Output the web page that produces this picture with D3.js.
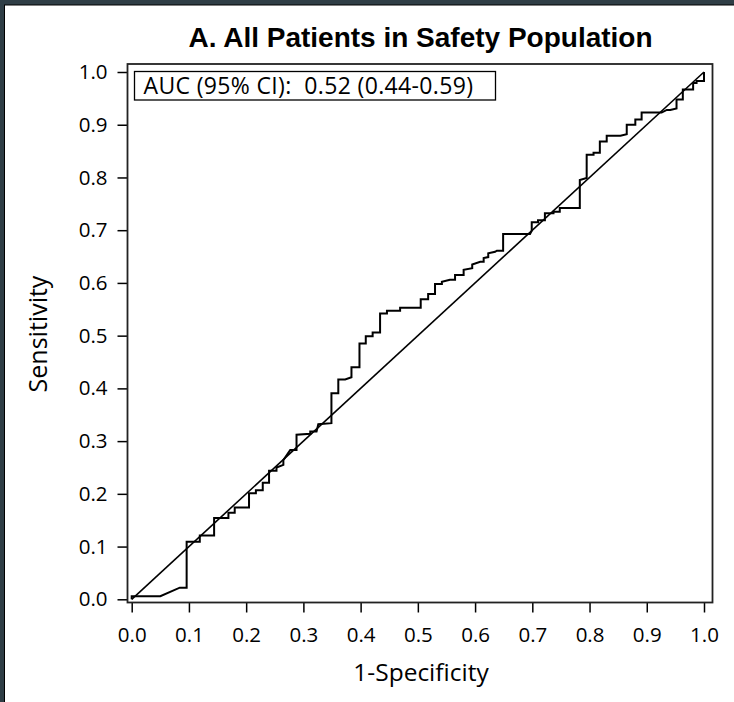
<!DOCTYPE html>
<html lang="en">
<head>
<meta charset="utf-8">
<script src="https://d3js.org/d3.v7.min.js"></script>
<style>
  body { margin: 0; background: #fff; }
  svg { display: block; }
</style>
</head>
<body>
<script>
// ROC curve points (1-Specificity, Sensitivity)
var fpr = [0, 0, 0.050, 0.084, 0.096, 0.096, 0.119, 0.119, 0.144, 0.144, 0.169, 0.169, 0.180, 0.180,
  0.205, 0.205, 0.217, 0.217, 0.229, 0.229, 0.240, 0.240, 0.253, 0.253, 0.265, 0.265, 0.277, 0.288,
  0.288, 0.312, 0.312, 0.323, 0.326, 0.349, 0.349, 0.361, 0.361, 0.373, 0.384, 0.384, 0.398, 0.398,
  0.409, 0.409, 0.421, 0.421, 0.434, 0.434, 0.446, 0.446, 0.469, 0.469, 0.505, 0.505, 0.518, 0.518,
  0.530, 0.530, 0.542, 0.542, 0.556, 0.565, 0.565, 0.580, 0.580, 0.595, 0.595, 0.609, 0.615, 0.615,
  0.623, 0.623, 0.635, 0.638, 0.649, 0.649, 0.696, 0.699, 0.699, 0.710, 0.710, 0.722, 0.722, 0.737,
  0.737, 0.748, 0.748, 0.783, 0.783, 0.795, 0.795, 0.807, 0.807, 0.818, 0.818, 0.830, 0.830, 0.854,
  0.865, 0.865, 0.880, 0.880, 0.891, 0.891, 0.926, 0.935, 0.941, 0.952, 0.952, 0.963, 0.963, 0.981,
  0.981, 0.987, 0.987, 1.0, 1.0];
var tpr = [0, 0.006, 0.006, 0.022, 0.022, 0.109, 0.109, 0.121, 0.121, 0.154, 0.154, 0.164, 0.164, 0.174,
  0.174, 0.201, 0.201, 0.207, 0.207, 0.221, 0.221, 0.244, 0.244, 0.250, 0.255, 0.264, 0.283, 0.283,
  0.312, 0.314, 0.318, 0.318, 0.332, 0.334, 0.391, 0.391, 0.417, 0.417, 0.421, 0.440, 0.440, 0.485,
  0.485, 0.499, 0.499, 0.506, 0.506, 0.542, 0.542, 0.547, 0.547, 0.553, 0.553, 0.569, 0.569, 0.579,
  0.579, 0.598, 0.598, 0.602, 0.606, 0.606, 0.615, 0.615, 0.625, 0.628, 0.635, 0.640, 0.640, 0.647,
  0.649, 0.656, 0.659, 0.661, 0.661, 0.693, 0.693, 0.699, 0.715, 0.715, 0.719, 0.719, 0.732, 0.732,
  0.735, 0.735, 0.742, 0.742, 0.795, 0.799, 0.843, 0.843, 0.847, 0.847, 0.868, 0.868, 0.879, 0.879,
  0.882, 0.900, 0.900, 0.910, 0.910, 0.923, 0.923, 0.928, 0.928, 0.931, 0.948, 0.948, 0.967, 0.967,
  0.979, 0.979, 0.983, 0.983, 1.0];

var tickValues = [0, 0.1, 0.2, 0.3, 0.4, 0.5, 0.6, 0.7, 0.8, 0.9, 1.0];
var titleText = "A. All Patients in Safety Population";
var legendText = "AUC (95% CI):  0.52 (0.44-0.59)";
var xLabel = "1-Specificity";
var yLabel = "Sensitivity";

var width = 734;
var height = 702;

// frame of the plot and the data range inside it
var frame = { left: 127.5, top: 64, right: 712.5, bottom: 602.5 };

var x = d3.scaleLinear().domain([0, 1]).range([131.7, 704]);
var y = d3.scaleLinear().domain([0, 1]).range([599.3, 72]);

var svg = d3.select("body")
  .append("svg")
  .attr("width", width)
  .attr("height", height);

// dark outer border (left and top only)
svg.append("rect")
  .attr("width", width)
  .attr("height", height)
  .style("fill", "#2f3e46");
svg.append("rect")
  .attr("x", 4)
  .attr("y", 4.5)
  .attr("width", width)
  .attr("height", height)
  .style("fill", "#000");
svg.append("rect")
  .attr("x", 5)
  .attr("y", 5.5)
  .attr("width", width)
  .attr("height", height)
  .style("fill", "#fff");

// title
svg.append("text")
  .attr("x", 420.5)
  .attr("y", 47)
  .attr("text-anchor", "middle")
  .style("font-family", "'Liberation Sans', Arial, sans-serif")
  .style("font-weight", "bold")
  .style("font-size", "28px")
  .text(titleText);

// axes
var fontAxis = "'Open Sans', sans-serif";

var xAxis = svg.append("g")
  .attr("transform", "translate(0," + frame.bottom + ")")
  .call(d3.axisBottom(x).tickValues(tickValues).tickSize(10).tickPadding(15).tickFormat(d3.format(".1f")));

var yAxis = svg.append("g")
  .attr("transform", "translate(" + frame.left + ",0)")
  .call(d3.axisLeft(y).tickValues(tickValues).tickSize(10).tickPadding(10).tickFormat(d3.format(".1f")));

[xAxis, yAxis].forEach(function(g) {
  g.select(".domain").remove();
  g.selectAll("line").style("stroke", "#000").style("stroke-width", 1.5);
  g.selectAll("text")
    .style("font-family", fontAxis)
    .style("font-size", "20.5px")
    .style("fill", "#000");
});

// axis labels
svg.append("text")
  .attr("x", 421)
  .attr("y", 681)
  .attr("text-anchor", "middle")
  .style("font-family", fontAxis)
  .style("font-size", "24.5px")
  .text(xLabel);

svg.append("text")
  .attr("transform", "translate(47,334) rotate(-90)")
  .attr("text-anchor", "middle")
  .style("font-family", fontAxis)
  .style("font-size", "25px")
  .text(yLabel);

// chance diagonal
svg.append("line")
  .attr("x1", x(0))
  .attr("y1", y(0))
  .attr("x2", x(1))
  .attr("y2", y(1))
  .style("stroke", "#000")
  .style("stroke-width", 1.6);

// ROC curve
var points = fpr.map(function(d, i) { return [d, tpr[i]]; });
var line = d3.line()
  .x(function(d) { return x(d[0]); })
  .y(function(d) { return y(d[1]); });

svg.append("path")
  .datum(points)
  .attr("d", line)
  .style("fill", "none")
  .style("stroke", "#000")
  .style("stroke-width", 2)
  .style("stroke-linejoin", "miter");

// plot frame
svg.append("rect")
  .attr("x", frame.left)
  .attr("y", frame.top)
  .attr("width", frame.right - frame.left)
  .attr("height", frame.bottom - frame.top)
  .style("fill", "none")
  .style("stroke", "#222")
  .style("stroke-width", 1.8);

// legend box with AUC
svg.append("rect")
  .attr("x", 134.5)
  .attr("y", 71.5)
  .attr("width", 361)
  .attr("height", 28.5)
  .style("fill", "#fff")
  .style("stroke", "#000")
  .style("stroke-width", 1.3);

svg.append("text")
  .attr("x", 143.5)
  .attr("y", 94)
  .attr("xml:space", "preserve")
  .style("white-space", "pre")
  .style("font-family", fontAxis)
  .style("font-size", "23px")
  .style("letter-spacing", "0.35px")
  .text(legendText);
</script>
</body>
</html>
